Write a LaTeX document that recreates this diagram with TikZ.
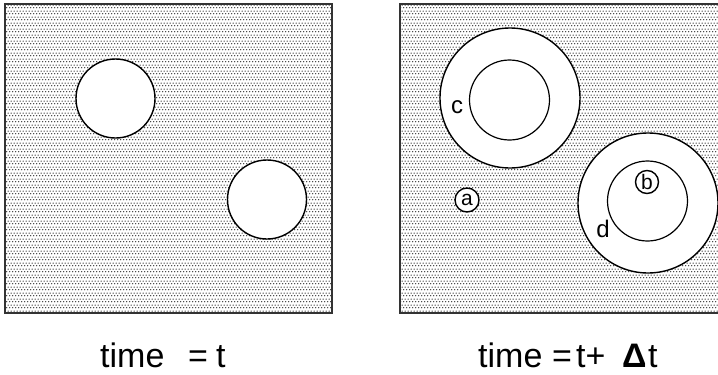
\documentclass[tikz,border=0pt]{standalone}
\usepackage{fontspec}
\setmainfont{Liberation Sans}
\usetikzlibrary{patterns}
\pgfdeclarepatternformonly{finedots}{\pgfqpoint{0pt}{0pt}}{\pgfqpoint{3.4pt}{6pt}}{\pgfqpoint{3.4pt}{6pt}}{%
  \pgfpathcircle{\pgfqpoint{0.85pt}{1.5pt}}{0.8pt}%
  \pgfpathcircle{\pgfqpoint{2.55pt}{4.5pt}}{0.8pt}%
  \pgfusepath{fill}%
}
\tikzset{
  panel/.style={draw=black!80, line width=1.2pt, pattern=finedots, pattern color=black!85},
  hole/.style={circle, draw=black, line width=1.4pt, fill=white, inner sep=0pt, minimum size=#1},
  ring/.style={circle, draw=black, line width=1.2pt, inner sep=0pt, minimum size=#1},
  tag/.style={circle, draw=black, line width=1.4pt, fill=white, inner sep=0pt, minimum size=#1, font=\fontsize{21}{21}\selectfont},
  lbl/.style={inner sep=0pt, font=\fontsize{24}{24}\selectfont},
  captext/.style={anchor=base west, inner sep=0pt, font=\fontsize{34}{34}\selectfont}
}
\begin{document}
\begin{tikzpicture}[x=1pt,y=-1pt]
\useasboundingbox (0,0) rectangle (718,375);
\clip (0,0) rectangle (718,375);
\fill[white] (0,0) rectangle (718,375);
% left panel
\draw[panel] (5,4) rectangle (332,313);
\node[hole=79pt] (L1) at (115.5,98.5) {};
\node[hole=79pt] (L2) at (267,199.5) {};
% right panel
\draw[panel] (400,4) rectangle (728,313);
\node[hole=140pt] (cout) at (510,98) {};
\node[ring=80pt] (cin) at (509.5,100) {};
\node[lbl] (clab) at (457,107) {c};
\node[hole=140pt] (dout) at (648,203) {};
\node[ring=80pt] (din) at (647.5,201) {};
\node[lbl] (dlab) at (603,229) {d};
\node[tag=23pt] (b) at (647,182) {b};
\node[tag=24pt] (a) at (467,200) {a};
% captions
\node[captext] (t1) at (100,367) {time};
\node[captext] (t2) at (188,367) {=};
\node[captext] (t3) at (216,367) {t};
\node[captext] (r1) at (478,367) {time};
\node[captext] (r2) at (552,367) {=};
\node[captext] (r3) at (576,367) {t+};
\node[captext] (r4) at (622,367) {\textbf{Δ}};
\node[captext] (r5) at (648,367) {t};
\end{tikzpicture}
\end{document}
